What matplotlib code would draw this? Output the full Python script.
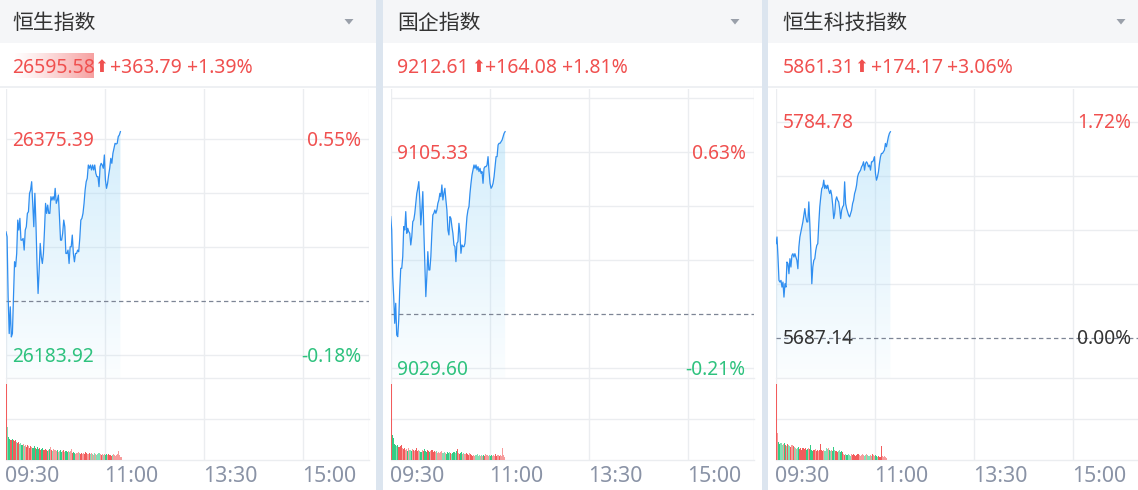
import numpy as np
import matplotlib
matplotlib.use("Agg")
import matplotlib.pyplot as plt
from matplotlib.patches import Rectangle, Polygon
from matplotlib.transforms import blended_transform_factory, offset_copy

plt.rcParams['font.family'] = ['Noto Sans', 'Noto Sans CJK SC', 'DejaVu Sans']

W, H = 1138, 490

# ---------------- data ----------------
titles = ["恒生指数", "国企指数", "恒生科技指数"]
last_prices = ["26595.58", "9212.61", "5861.31"]
changes = ["+363.79", "+164.08", "+174.17"]
change_pcts = ["+1.39%", "+1.81%", "+3.06%"]
prev_closes = [26231.79, 9048.53, 5687.14]
upper_labels = [26375.39, 9105.33, 5784.78]
lower_labels = [26183.92, 9029.60, 5687.14]
upper_pcts = ["0.55%", "0.63%", "1.72%"]
lower_pcts = ["-0.18%", "-0.21%", "0.00%"]
time_ticks = [0, 90, 180, 270]
time_labels = ["09:30", "11:00", "13:30", "15:00"]
session_minutes = 330
last_minute = 104

hsi_prices = [
    26293.4, 26289.0, 26235.7, 26203.2, 26226.9, 26200.2, 26203.2, 26235.7, 26266.8, 26262.4,
    26274.2, 26303.8, 26294.9, 26305.3, 26286.0, 26286.0, 26287.5, 26277.2, 26294.9, 26297.9,
    26309.7, 26311.2, 26327.5, 26330.4, 26337.8, 26318.6, 26297.9, 26327.5, 26300.8, 26265.3,
    26238.7, 26259.4, 26283.1, 26271.2, 26265.3, 26274.2, 26294.9, 26318.6, 26309.7, 26317.1,
    26309.7, 26309.7, 26324.5, 26321.5, 26324.5, 26321.5, 26331.9, 26318.6, 26321.5, 26326.0,
    26306.8, 26286.0, 26286.0, 26292.0, 26303.8, 26297.9, 26274.2, 26274.2, 26277.2, 26265.3,
    26280.1, 26280.1, 26290.5, 26274.2, 26266.8, 26274.2, 26274.2, 26277.2, 26275.7, 26287.5,
    26303.8, 26305.3, 26309.7, 26318.6, 26330.4, 26337.8, 26340.8, 26352.6, 26349.7, 26352.6,
    26348.2, 26352.6, 26348.2, 26352.6, 26345.2, 26342.3, 26342.3, 26333.4, 26351.1, 26354.1,
    26352.6, 26349.7, 26361.5, 26339.3, 26331.9, 26336.3, 26343.7, 26349.7, 26358.5, 26354.1,
    26363.0, 26367.4, 26371.8, 26371.2, 26371.8, 26377.8, 26379.2, 26382.2,
]
hsce_prices = [
    9082.77, 9078.10, 9061.74, 9054.73, 9045.38, 9052.39, 9041.29, 9040.70, 9046.54, 9057.06,
    9064.66, 9064.66, 9068.75, 9079.27, 9078.10, 9084.53, 9076.93, 9078.68, 9077.52, 9076.93,
    9072.84, 9075.76, 9081.02, 9081.61, 9083.94, 9087.45, 9090.95, 9092.71, 9095.05, 9088.62,
    9079.85, 9085.11, 9091.54, 9078.10, 9066.41, 9054.73, 9061.74, 9070.50, 9064.07, 9064.07,
    9068.75, 9076.93, 9083.36, 9083.94, 9085.11, 9083.94, 9085.11, 9087.45, 9088.62, 9090.95,
    9089.79, 9093.88, 9088.62, 9090.95, 9092.71, 9088.62, 9085.11, 9078.10, 9076.35, 9082.77,
    9082.19, 9079.27, 9076.93, 9072.84, 9072.26, 9067.00, 9073.42, 9074.01, 9080.44, 9076.93,
    9069.92, 9072.84, 9072.26, 9072.26, 9073.42, 9078.10, 9082.77, 9085.11, 9086.28, 9090.95,
    9094.46, 9097.38, 9099.14, 9100.89, 9099.72, 9100.89, 9099.14, 9100.30, 9098.55, 9099.72,
    9097.97, 9098.55, 9094.46, 9099.72, 9100.30, 9100.30, 9100.89, 9103.81, 9098.55, 9094.46,
    9092.71, 9093.29, 9094.46, 9096.80, 9100.30, 9103.81, 9103.81, 9107.90, 9108.49, 9108.49,
    9109.07, 9109.65, 9110.82, 9111.99, 9112.58,
]
hstech_prices = [
    5729.65, 5732.67, 5723.61, 5713.04, 5712.29, 5713.04, 5710.02, 5712.29, 5705.49, 5711.53,
    5710.02, 5721.35, 5720.59, 5716.06, 5722.86, 5719.08, 5724.37, 5725.12, 5723.61, 5725.12,
    5723.61, 5722.10, 5718.33, 5728.14, 5732.67, 5734.94, 5737.21, 5739.47, 5742.49, 5745.51,
    5741.74, 5739.47, 5739.47, 5748.53, 5738.72, 5726.63, 5711.53, 5719.08, 5722.10, 5722.86,
    5726.63, 5728.90, 5729.65, 5738.72, 5746.27, 5750.80, 5754.57, 5755.33, 5758.35, 5754.57,
    5756.08, 5754.57, 5756.08, 5753.82, 5752.31, 5753.82, 5751.55, 5747.02, 5740.98, 5743.25,
    5749.29, 5750.80, 5749.29, 5748.53, 5745.51, 5740.98, 5744.76, 5746.27, 5747.02, 5757.59,
    5747.78, 5745.51, 5744.00, 5742.49, 5741.74, 5743.25, 5744.76, 5747.78, 5749.29, 5752.31,
    5753.82, 5756.08, 5759.86, 5761.37, 5762.13, 5762.88, 5764.39, 5765.15, 5766.66, 5762.88,
    5765.90, 5766.66, 5765.90, 5764.39, 5765.15, 5762.88, 5766.66, 5766.66, 5767.41, 5768.92,
    5761.37, 5758.35, 5759.86, 5762.13, 5765.90, 5768.92, 5770.43, 5770.43, 5771.19, 5771.94,
    5774.96, 5773.45, 5775.72, 5777.98, 5779.49, 5780.25,
]

hsi_volumes = [
    76, 33, 23, 21, 20, 21, 20, 19, 20, 18, 17, 18, 16, 17, 15, 16,
    14, 15, 13, 15, 14, 12, 14, 13, 12, 14, 12, 11, 13,
    11, 12, 10, 11, 12, 10, 11, 10,
    9, 10, 11, 13, 10, 9, 11, 10, 9, 10, 8, 9, 10, 8, 9, 10, 8, 9, 8, 9, 8, 9, 11,
    7, 8, 7, 6, 7, 8, 7, 6, 7, 6, 7, 6, 8, 7, 6, 7, 6, 7, 6, 5, 7, 6, 5, 6, 7, 6, 5, 6, 5, 6,
    5, 6, 5, 6, 5, 4, 5, 6, 5, 4, 5, 6, 9, 5, 3,
]
hsce_volumes = [
    76, 25, 22, 16, 15, 14, 15, 13, 14, 15, 12, 11, 12, 10, 11, 9, 12, 10, 9, 11, 10, 9, 10,
    12, 9, 10, 9, 8, 10, 9, 11, 9, 8, 10, 9, 8, 9, 10, 8, 9, 8, 9,
    7, 8, 7, 8, 9, 7, 8, 7, 6, 8, 7, 8, 7, 6, 7, 8, 7, 9, 11, 7, 6, 7, 8, 6, 7, 6, 7, 6, 5, 7, 6,
    5, 4, 5, 4, 5, 6, 4, 5, 4, 5, 4, 5, 4, 6, 5, 4, 5, 4, 5, 4, 5, 4, 6, 4, 5, 4, 5, 4, 12, 5, 3,
]
hstech_volumes = [
    76, 27, 18, 16, 17, 15, 16, 17, 15, 14, 16, 15, 14, 13, 15, 14, 13,
    12, 11, 12, 13, 11, 12, 10, 12, 11, 12, 10, 11, 12, 11, 15, 10,
    9, 10, 11, 9, 10, 9, 10, 16, 10, 9, 10, 9, 12, 11, 12, 10, 9, 10, 9, 13, 10, 9, 8, 9, 10, 8, 9, 8,
    6, 5, 6, 5, 6, 5, 4, 6, 5, 6, 5, 4, 5, 6, 5, 4, 5, 6, 5, 4, 5, 6, 5, 4, 5, 4, 6, 5, 4, 5,
    4, 3, 4, 3, 14, 4, 3, 4, 3, 2,
]

price_series = [hsi_prices, hsce_prices, hstech_prices]
volume_series = [hsi_volumes, hsce_volumes, hstech_volumes]

# ---------------- style / layout ----------------
RED = '#f0504f'
GREEN = '#2ec27e'
DARK = '#333333'
GRID = '#ebedf0'
LINE = '#2f8ef0'
XLAB = '#8a93a6'
HEADER_BG = '#f5f6f8'
SEP = '#dce5ef'

panel_left = [0, 383, 768]
panel_right = [376, 762, 1138]
chart_x0 = [6, 390.7, 776]
chart_w = 363
price_top, price_bot = 89, 378
vol_top, vol_bot = 378, 460
upper_label_px = [139.3, 152.3, 121.7]
grid_px = 54.0

fig = plt.figure(figsize=(W / 100, H / 100), dpi=100)
fig.patch.set_facecolor('white')

bg = fig.add_axes([0, 0, 1, 1])
bg.set_xlim(0, W)
bg.set_ylim(H, 0)
bg.axis('off')

# separators
for sx0, sx1 in [(376, 383), (762, 768.5)]:
    bg.add_patch(Rectangle((sx0, 0), sx1 - sx0, H, color=SEP, lw=0))

def frac(x, y):
    return x / W, 1 - y / H

# price text offsets (px from panel chart_x0)
arrow_off = [88.5, 80, 78.5]
chg_off = [104.5, 94, 95]
pct_off = [181, 171, 171]

FS_LAB = 13.8
FS_ROW = 14.0

for i in range(3):
    pl, pr, x0 = panel_left[i], panel_right[i], chart_x0[i]
    # header band
    bg.add_patch(Rectangle((pl, 0), pr - pl, 43, color=HEADER_BG, lw=0))
    bg.add_patch(Rectangle((pl, 86.5), pr - pl, 2, color='#eef0f3', lw=0))
    bg.text(x0 + 6.5, 23, titles[i], fontsize=15, color=DARK, va='center', ha='left',
            family=['Noto Sans CJK SC', 'DejaVu Sans'])
    tx = pr - 27 if i < 2 else pr - 17
    bg.add_patch(Polygon([(tx - 4.5, 19), (tx + 4.5, 19), (tx, 24.5)], closed=True,
                         color='#9aa0aa', lw=0))
    # price row
    if i == 0:
        hl = np.zeros((1, 64, 4))
        hl[..., 0] = 0.96
        hl[..., 1] = 0.55
        hl[..., 2] = 0.55
        hl[..., 3] = np.linspace(0.0, 0.85, 64) ** 1.2
        bg.imshow(hl, extent=[x0 + 7, x0 + 88, 78, 53], aspect='auto', zorder=1,
                  interpolation='bilinear')
        bg.set_xlim(0, W)
        bg.set_ylim(H, 0)
    bg.text(x0 + 6.5, 68, last_prices[i], fontsize=FS_ROW, color=RED, va='center', ha='left', zorder=3)
    bg.text(x0 + arrow_off[i], 67.5, '⬆', fontsize=12, color=RED, va='center', ha='left',
            family=['DejaVu Sans'], zorder=3)
    bg.text(x0 + chg_off[i], 68, changes[i], fontsize=FS_ROW, color=RED, va='center', ha='left')
    bg.text(x0 + pct_off[i], 68, change_pcts[i], fontsize=FS_ROW, color=RED, va='center', ha='left')

    # ---------- price axes ----------
    prices = np.array(price_series[i])
    up, lo = upper_labels[i], lower_labels[i]
    ppu = 4 * grid_px / (up - lo)
    up_px = upper_label_px[i]
    lo_px = up_px + 4 * grid_px
    yhi = up + (up_px - price_top) / ppu
    ylo = lo - (price_bot - lo_px) / ppu

    l, b = frac(x0, price_bot)
    ax = fig.add_axes([l, b, chart_w / W, (price_bot - price_top) / H])
    ax.set_facecolor('none')
    for s in ax.spines.values():
        s.set_visible(False)
    ax.set_xticks([])
    ax.set_yticks([])

    step = (up - lo) / 4
    for k in range(-3, 9):
        v = lo + k * step
        if ylo < v < yhi and abs(v - prev_closes[i]) > step * 0.05:
            ax.axhline(v, color=GRID, lw=1, zorder=0)
    for t in time_ticks + [session_minutes]:
        ax.axvline(t, color=GRID, lw=1, zorder=0)

    xs = np.linspace(0, last_minute, len(prices))
    # gradient fill
    verts = np.column_stack([np.r_[xs, xs[-1], xs[0]], np.r_[prices, ylo, ylo]])
    clip = Polygon(verts, closed=True, facecolor='none', edgecolor='none')
    ax.add_patch(clip)
    grad = np.zeros((256, 1, 4))
    grad[..., 0] = 0.62
    grad[..., 1] = 0.85
    grad[..., 2] = 0.97
    grad[..., 3] = np.linspace(0.45, 0.04, 256)[:, None]
    im = ax.imshow(grad, extent=[xs[0], xs[-1], ylo, prices.max()], origin='upper',
                   aspect='auto', zorder=1, interpolation='bilinear')
    im.set_clip_path(clip)

    ax.plot(xs, prices, color=LINE, lw=0.9, zorder=3)
    ax.axhline(prev_closes[i], color='#7d8595', lw=0.9, dashes=(3.5, 2.5), zorder=2)

    ax.set_xlim(0, session_minutes)
    ax.set_ylim(ylo, yhi)

    tr = offset_copy(blended_transform_factory(ax.transAxes, ax.transData),
                     fig=fig, x=0, y=-1.5, units='dots')
    lo_col = GREEN if lo < prev_closes[i] - 1e-6 else DARK
    ax.text(6.5 / chart_w, up, f"{up:.2f}", transform=tr, color=RED, fontsize=FS_LAB,
            va='center', ha='left', zorder=4)
    ax.text(355 / chart_w, up, upper_pcts[i], transform=tr, color=RED, fontsize=FS_LAB,
            va='center', ha='right', zorder=4)
    ax.text(6.5 / chart_w, lo, f"{lo:.2f}", transform=tr, color=lo_col, fontsize=FS_LAB,
            va='center', ha='left', zorder=4)
    ax.text(355 / chart_w, lo, lower_pcts[i], transform=tr, color=lo_col, fontsize=FS_LAB,
            va='center', ha='right', zorder=4)

    # ---------- volume axes ----------
    vols = np.array(volume_series[i], dtype=float)
    l, b = frac(x0, vol_bot)
    axv = fig.add_axes([l, b, chart_w / W, (vol_bot - vol_top) / H])
    axv.set_facecolor('none')
    for s in axv.spines.values():
        s.set_visible(False)
    axv.set_xticks([])
    axv.set_yticks([])
    vtop = vols.max() * 82 / 76
    axv.set_ylim(0, vtop)
    axv.set_xlim(0, session_minutes)
    for v in [0, vtop / 2, vtop]:
        axv.axhline(v, color=GRID, lw=1, zorder=0, clip_on=False)
    for t in time_ticks + [session_minutes]:
        axv.axvline(t, color=GRID, lw=1, zorder=0)

    mins = np.arange(len(vols))
    pm = np.interp(mins, xs, prices)
    prev = np.r_[prev_closes[i], pm[:-1]]
    diff = pm - prev
    med = np.median(np.abs(diff))
    cols = []
    for d in diff:
        base = (0.95, 0.36, 0.36) if d >= 0 else (0.20, 0.80, 0.52)
        a = 1.0 if abs(d) > med else 0.6
        cols.append((*base, a))
    axv.bar(mins + 0.5, vols, width=1.0, color=cols, lw=0, zorder=2)

    for t, lab in zip(time_ticks, time_labels):
        xpx = x0 + t / session_minutes * chart_w
        bg.text(xpx - 0.5, 476, lab, fontsize=15.3, color=XLAB, va='center', ha='left')

fig.savefig('out.png', dpi=100, facecolor='white')
